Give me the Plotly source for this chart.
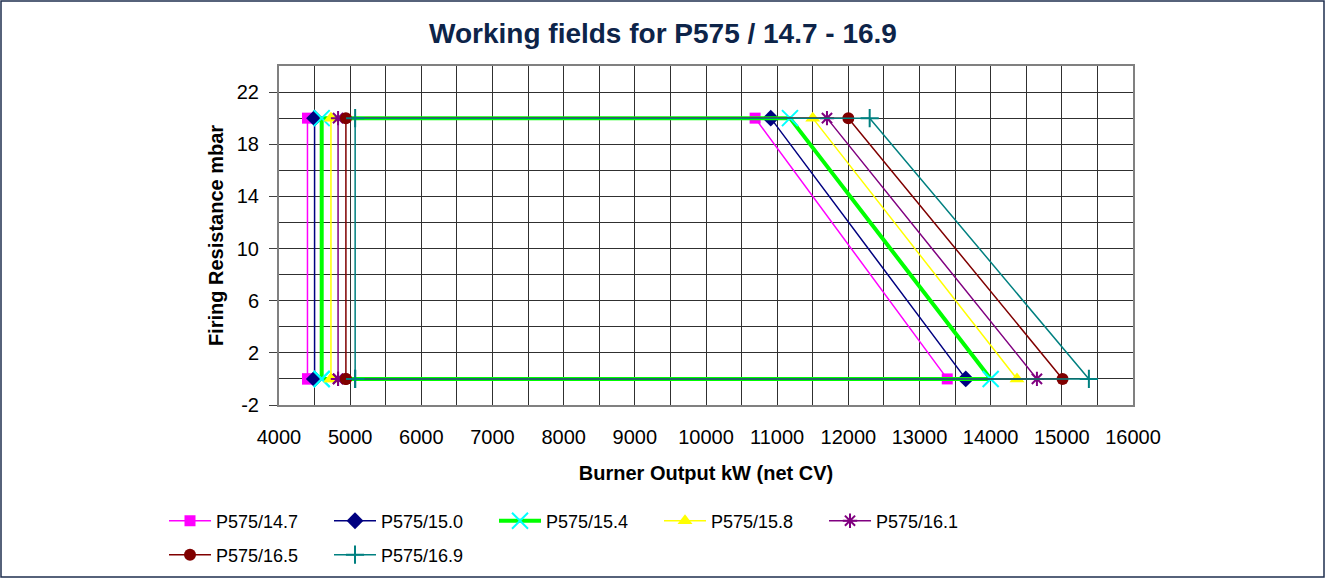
import plotly.graph_objects as go

# ---- data ----
series_names = ["P575/14.7", "P575/15.0", "P575/15.4", "P575/15.8",
                "P575/16.1", "P575/16.5", "P575/16.9"]
output_min_kw = [4400, 4500, 4600, 4730, 4830, 4940, 5070]        # left edge (both 0 and 20 mbar)
output_max_kw_at_top = [10690, 10910, 11180, 11500, 11700, 12000, 12300]   # at 20 mbar
output_max_kw_at_zero = [13390, 13650, 14000, 14370, 14650, 15010, 15380]  # at 0 mbar
resistance_low = [0, 0, 0, 0, 0, 0, 0]
resistance_high = [20, 20, 20, 20, 20, 20, 20]

x_tick_vals = [4000, 5000, 6000, 7000, 8000, 9000, 10000, 11000, 12000, 13000, 14000, 15000, 16000]
x_tick_text = [str(v) for v in x_tick_vals]
y_tick_vals = [-2, 2, 6, 10, 14, 18, 22]
y_tick_text = [str(v) for v in y_tick_vals]

# ---- styles ----
line_colors = ["#FF00FF", "#000080", "#00FF00", "#FFFF00", "#800080", "#800000", "#008080"]
marker_colors = ["#FF00FF", "#000080", "#00FFFF", "#FFFF00", "#800080", "#800000", "#008080"]
marker_symbols = ["square", "diamond", "x-thin-open", "triangle-up", "asterisk-open", "circle", "cross-thin-open"]
marker_sizes = [11, 13, 16, 13, 12, 12, 13]
line_widths = [1.5, 1.5, 4, 1.5, 1.5, 1.5, 1.5]

FONT = "Liberation Sans, Arial, sans-serif"

fig = go.Figure()
for i, name in enumerate(series_names):
    xs = [output_min_kw[i], output_min_kw[i], output_max_kw_at_top[i], output_max_kw_at_zero[i], output_min_kw[i]]
    ys = [resistance_low[i], resistance_high[i], resistance_high[i], resistance_low[i], resistance_low[i]]
    open_sym = marker_symbols[i].endswith("open")
    fig.add_trace(go.Scatter(
        x=xs, y=ys, name=name, mode="lines+markers",
        line=dict(color=line_colors[i], width=line_widths[i]),
        marker=dict(symbol=marker_symbols[i], size=marker_sizes[i], color=marker_colors[i],
                    line=dict(color=marker_colors[i], width=2 if open_sym else 0)),
        legend="legend" if i < 5 else "legend2",
    ))

W, H = 1326, 579
L, R, T, B = 279, 193, 66, 174
pw, ph = W - L - R, H - T - B

legend_common = dict(orientation="h", xref="container", yref="container",
                     xanchor="left", yanchor="middle",
                     entrywidth=108, entrywidthmode="pixels", itemwidth=42,
                     font=dict(size=18), bgcolor="rgba(0,0,0,0)", traceorder="normal")

fig.update_layout(
    width=W, height=H,
    margin=dict(l=L, r=R, t=T, b=B, autoexpand=False),
    paper_bgcolor="white", plot_bgcolor="white",
    font=dict(family=FONT, color="black", size=20),
    title=dict(text="<b>Working fields for P575 / 14.7 - 16.9</b>",
               x=0.5, xref="container", xanchor="center",
               y=1 - 33 / H, yref="container", yanchor="middle",
               font=dict(family=FONT, size=28, color="#0D2449")),
    xaxis=dict(range=[4000, 16000], tickvals=x_tick_vals, ticktext=x_tick_text, ticks="",
               showgrid=True, gridcolor="#303030", gridwidth=1,
               minor=dict(dtick=500, tick0=4000, showgrid=True, gridcolor="#303030", gridwidth=1),
               showline=True, linecolor="#808080", linewidth=2, mirror=True,
               zeroline=False, ticklabelstandoff=13,
               tickfont=dict(size=20),
               title=dict(text="<b>Burner Output kW (net CV)</b>", font=dict(size=20), standoff=19)),
    yaxis=dict(range=[-2, 24], tickvals=y_tick_vals, ticktext=y_tick_text,
               ticks="outside", ticklen=8, tickcolor="#404040",
               showgrid=True, gridcolor="#303030", gridwidth=1,
               minor=dict(dtick=2, tick0=0, showgrid=True, gridcolor="#303030", gridwidth=1),
               showline=True, linecolor="#808080", linewidth=2, mirror=True,
               zeroline=False, ticklabelstandoff=6,
               tickfont=dict(size=20),
               title=dict(text="<b>Firing Resistance mbar</b>", font=dict(size=20), standoff=8)),
    legend=dict(x=164 / W, y=1 - 521 / H, **legend_common),
    legend2=dict(x=164 / W, y=1 - 555 / H, **legend_common),
    showlegend=True,
)

# outer chart frame
fig.add_shape(type="rect", xref="paper", yref="paper",
              x0=(1 - L) / pw, x1=(W - 2 - L) / pw,
              y0=(H - B - (H - 2)) / ph, y1=(H - B - 1) / ph,
              line=dict(color="#1F2F4F", width=1.5), fillcolor="rgba(0,0,0,0)", layer="below")

fig.write_html("out.html", config={"displayModeBar": False},
               post_script="document.body.style.margin='0';")
